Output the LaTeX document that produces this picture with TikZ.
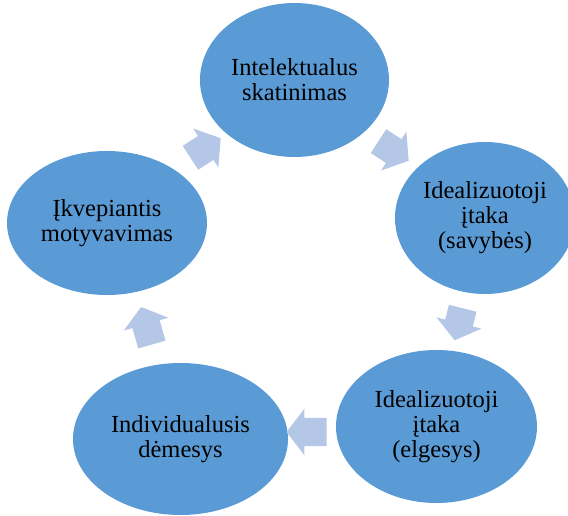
\documentclass[tikz,border=0pt]{standalone}
\usepackage{fontspec}
\setmainfont{Liberation Serif}
\usetikzlibrary{shapes.geometric,shapes.arrows}
\definecolor{phasefill}{RGB}{91,155,213}
\definecolor{arrowfill}{RGB}{180,199,231}

\begin{document}
\begin{tikzpicture}[x=1pt,y=-1pt]
\tikzset{phase/.style = {shape=ellipse,fill=phasefill,inner sep=0pt,align=center,font=\fontsize{24.5}{25}\selectfont}}
\tikzset{cyclearrow/.style = {shape=single arrow,fill=arrowfill,inner xsep=0pt,inner ysep=14pt,minimum height=36pt,minimum width=46pt,single arrow head extend=9pt,single arrow tip angle=105}}
\useasboundingbox (0,0) rectangle (568,516);
% vertices
\node[phase,minimum width=189pt,minimum height=154pt] (skat) at (294.5,80) {Intelektualus\\skatinimas};
\node[phase,minimum width=180pt,minimum height=152pt] (savyb) at (485,218) {Idealizuotoji\\įtaka\\(savybės)};
\node[phase,minimum width=201pt,minimum height=153pt] (elges) at (436.5,426.5) {Idealizuotoji\\įtaka\\(elgesys)};
\node[phase,minimum width=215pt,minimum height=152pt] (demes) at (180.5,439) {Individualusis\\dėmesys};
\node[phase,minimum width=200pt,minimum height=144pt] (motyv) at (107,223) {Įkvepiantis\\motyvavimas};
% arrows
\node[cyclearrow,rotate=-33] (a1) at (389,148) {};
\node[cyclearrow,rotate=256,minimum height=33pt] (a2) at (460,319) {};
\node[cyclearrow,rotate=180,minimum height=40pt] (a3) at (312,432) {};
\node[cyclearrow,rotate=106,minimum height=39pt] (a4) at (148,331) {};
\node[cyclearrow,rotate=33] (a5) at (201,151) {};
\end{tikzpicture}
\end{document}
